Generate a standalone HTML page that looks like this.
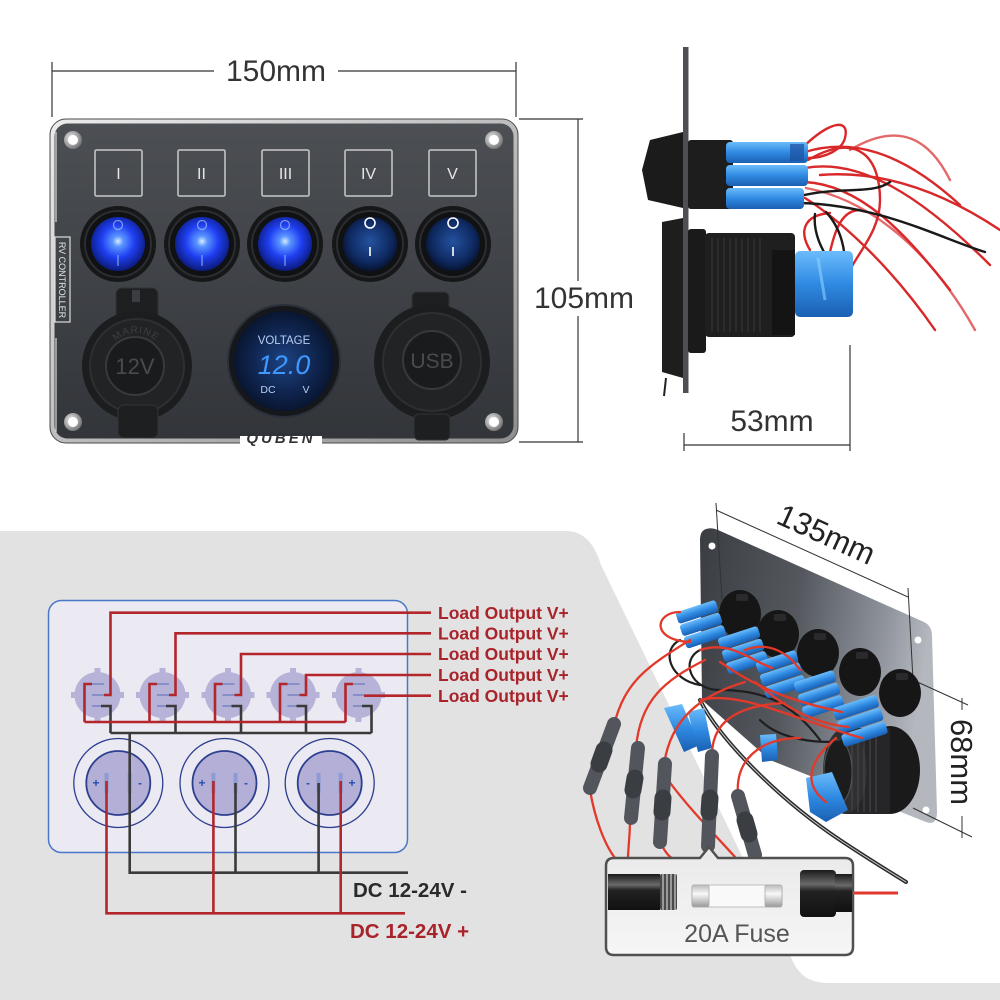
<!DOCTYPE html>
<html><head><meta charset="utf-8"><style>
html,body{margin:0;padding:0;background:#fff;}
svg{display:block;}
text{font-family:"Liberation Sans",sans-serif;}
</style></head><body>
<svg width="1000" height="1000" viewBox="0 0 1000 1000" xmlns="http://www.w3.org/2000/svg">
<defs>
 <linearGradient id="pnl" x1="0" y1="0" x2="0" y2="1">
  <stop offset="0" stop-color="#4c4f54"/><stop offset="1" stop-color="#323539"/>
 </linearGradient>
 <linearGradient id="rim" x1="0" y1="0" x2="1" y2="1">
  <stop offset="0" stop-color="#ececec"/><stop offset="1" stop-color="#8e8e8e"/>
 </linearGradient>
 <radialGradient id="lensB" cx="0.5" cy="0.45" r="0.55">
  <stop offset="0" stop-color="#d8ecff"/><stop offset="0.18" stop-color="#5a95ff"/><stop offset="0.55" stop-color="#1f3ff2"/><stop offset="1" stop-color="#0b1a7a"/>
 </radialGradient>
 <radialGradient id="lensD" cx="0.5" cy="0.45" r="0.55">
  <stop offset="0" stop-color="#24519e"/><stop offset="0.7" stop-color="#0f2a62"/><stop offset="1" stop-color="#071330"/>
 </radialGradient>
 <radialGradient id="volt" cx="0.5" cy="0.5" r="0.5">
  <stop offset="0" stop-color="#1d4282"/><stop offset="0.75" stop-color="#0d2046"/><stop offset="1" stop-color="#091630"/>
 </radialGradient>
 <radialGradient id="screw" cx="0.4" cy="0.4" r="0.6">
  <stop offset="0" stop-color="#f4f4f4"/><stop offset="1" stop-color="#777"/>
 </radialGradient>
 <linearGradient id="plate2" x1="0" y1="0" x2="1" y2="0.2">
  <stop offset="0" stop-color="#3a3d42"/><stop offset="0.45" stop-color="#55595f"/><stop offset="0.8" stop-color="#8d919a"/><stop offset="1" stop-color="#b4b7bd"/>
 </linearGradient>
 <linearGradient id="fusebg" x1="0" y1="0" x2="0" y2="1">
  <stop offset="0" stop-color="#e9e9e9"/><stop offset="1" stop-color="#f6f6f6"/>
 </linearGradient>
 <linearGradient id="blk" x1="0" y1="0" x2="0" y2="1">
  <stop offset="0" stop-color="#1a1a1a"/><stop offset="0.3" stop-color="#6a6a6a"/><stop offset="0.45" stop-color="#222"/><stop offset="1" stop-color="#111"/>
 </linearGradient>
 <linearGradient id="metal" x1="0" y1="0" x2="0" y2="1">
  <stop offset="0" stop-color="#bbb"/><stop offset="0.4" stop-color="#f8f8f8"/><stop offset="1" stop-color="#999"/>
 </linearGradient>
 <linearGradient id="blue" x1="0" y1="0" x2="0" y2="1">
  <stop offset="0" stop-color="#6bbcfb"/><stop offset="0.5" stop-color="#2f8ae2"/><stop offset="1" stop-color="#1a5fb2"/>
 </linearGradient>
 <path id="arc12" d="M107,362 A29,29 0 0 1 165,362"/>
</defs>

<!-- background -->
<rect width="1000" height="1000" fill="#ffffff"/>
<path d="M0,531 L565,531 C585,531 595,545 601,565 L790,955 C798,975 808,983 830,983 L1000,983 L1000,1000 L0,1000 Z" fill="#e2e2e2"/>

<!-- ============ TOP LEFT: panel front ============ -->
<g stroke="#333" stroke-width="1.2" fill="none">
 <line x1="52" y1="62" x2="52" y2="117"/>
 <line x1="516" y1="62" x2="516" y2="117"/>
 <line x1="52" y1="71" x2="214" y2="71"/>
 <line x1="338" y1="71" x2="516" y2="71"/>
 <line x1="519" y1="119" x2="583" y2="119"/>
 <line x1="519" y1="442" x2="583" y2="442"/>
 <line x1="578" y1="119" x2="578" y2="281"/>
 <line x1="578" y1="316" x2="578" y2="442"/>
</g>
<text x="276" y="81" font-size="30" fill="#333" text-anchor="middle">150mm</text>
<text x="584" y="308" font-size="30" fill="#333" text-anchor="middle">105mm</text>

<rect x="50" y="119" width="468" height="324" rx="16" fill="url(#rim)" stroke="#4a4a4a" stroke-width="1"/>
<rect x="54.5" y="123.5" width="459" height="315" rx="13" fill="url(#pnl)"/>
<line x1="56" y1="132" x2="56" y2="222" stroke="#ddd" stroke-width="1.2"/>
<line x1="56" y1="338" x2="56" y2="432" stroke="#ddd" stroke-width="1.2"/>

<!-- screws -->
<g>
 <circle cx="73" cy="140" r="9" fill="url(#screw)"/><circle cx="73" cy="140" r="5" fill="#fff"/>
 <circle cx="494" cy="140" r="9" fill="url(#screw)"/><circle cx="494" cy="140" r="5" fill="#fff"/>
 <circle cx="73" cy="422" r="9" fill="url(#screw)"/><circle cx="73" cy="422" r="5" fill="#fff"/>
 <circle cx="494" cy="422" r="9" fill="url(#screw)"/><circle cx="494" cy="422" r="5" fill="#fff"/>
</g>

<!-- label boxes -->
<g fill="none" stroke="#c9c9c9" stroke-width="1.5">
 <rect x="95" y="150" width="47" height="46" rx="1.5"/>
 <rect x="178" y="150" width="47" height="46" rx="1.5"/>
 <rect x="262" y="150" width="47" height="46" rx="1.5"/>
 <rect x="345" y="150" width="47" height="46" rx="1.5"/>
 <rect x="429" y="150" width="47" height="46" rx="1.5"/>
</g>
<g font-size="16" fill="#e6e6e6" text-anchor="middle">
 <text x="118.5" y="179" font-family="Liberation Serif, serif">I</text>
 <text x="201.5" y="179" font-family="Liberation Serif, serif">II</text>
 <text x="285.5" y="179" font-family="Liberation Serif, serif">III</text>
 <text x="368.5" y="179" font-family="Liberation Serif, serif">IV</text>
 <text x="452.5" y="179" font-family="Liberation Serif, serif">V</text>
</g>

<!-- RV controller label -->
<rect x="55" y="237" width="15" height="85" fill="none" stroke="#ddd" stroke-width="1.2"/>
<text transform="translate(59,280) rotate(90)" font-family="Liberation Serif, serif" font-size="9" fill="#e6e6e6" text-anchor="middle">RV CONTROLLER</text>

<!-- switches -->
<g>
 <circle cx="118" cy="244" r="38" fill="#161718"/><circle cx="118" cy="244" r="33" fill="#101112" stroke="#2c2d30" stroke-width="2"/><circle cx="118" cy="244" r="27" fill="url(#lensB)"/>
 <circle cx="202" cy="244" r="38" fill="#161718"/><circle cx="202" cy="244" r="33" fill="#101112" stroke="#2c2d30" stroke-width="2"/><circle cx="202" cy="244" r="27" fill="url(#lensB)"/>
 <circle cx="285" cy="244" r="38" fill="#161718"/><circle cx="285" cy="244" r="33" fill="#101112" stroke="#2c2d30" stroke-width="2"/><circle cx="285" cy="244" r="27" fill="url(#lensB)"/>
 <circle cx="370" cy="244" r="38" fill="#161718"/><circle cx="370" cy="244" r="33" fill="#101112" stroke="#2c2d30" stroke-width="2"/><circle cx="370" cy="244" r="27" fill="url(#lensD)"/>
 <circle cx="453" cy="244" r="38" fill="#161718"/><circle cx="453" cy="244" r="33" fill="#101112" stroke="#2c2d30" stroke-width="2"/><circle cx="453" cy="244" r="27" fill="url(#lensD)"/>
 <g stroke="#b9d8ff" stroke-width="1.3" fill="none">
  <circle cx="118" cy="225" r="4.5" stroke-opacity="0.6"/><line x1="118" y1="255" x2="118" y2="266" stroke-opacity="0.6"/>
  <circle cx="202" cy="225" r="4.5" stroke-opacity="0.6"/><line x1="202" y1="255" x2="202" y2="266" stroke-opacity="0.6"/>
  <circle cx="285" cy="225" r="4.5" stroke-opacity="0.6"/><line x1="285" y1="255" x2="285" y2="266" stroke-opacity="0.6"/>
 </g>
 <g stroke="#ffffff" stroke-width="1.6" fill="none">
  <circle cx="370" cy="223" r="5"/><line x1="370" y1="247" x2="370" y2="256"/>
  <circle cx="453" cy="223" r="5"/><line x1="453" y1="247" x2="453" y2="256"/>
 </g>
</g>

<!-- 12V socket -->
<g>
 <rect x="116" y="288" width="42" height="32" rx="6" fill="#1e1f21" stroke="#333" stroke-width="1"/>
 <rect x="132" y="290" width="8" height="12" fill="#3a3d42"/>
 <circle cx="137" cy="366" r="55" fill="#1c1d1f"/>
 <circle cx="137" cy="366" r="47" fill="#222325" stroke="#2e2f32" stroke-width="2"/>
 <circle cx="135" cy="366" r="29" fill="#1a1b1d" stroke="#38393c" stroke-width="2"/>
 <text x="135" y="374" font-size="22" fill="#4a4b4e" text-anchor="middle">12V</text>
 <text font-size="10" fill="#3d3e41" letter-spacing="1"><textPath href="#arc12" startOffset="50%" text-anchor="middle">MARINE</textPath></text>
 <rect x="118" y="405" width="40" height="33" rx="6" fill="#1e1f21" stroke="#333" stroke-width="1"/>
</g>

<!-- voltmeter -->
<g>
 <circle cx="284" cy="361" r="56" fill="#15171b" stroke="#2a2f3a" stroke-width="2"/>
 <circle cx="284" cy="361" r="50" fill="url(#volt)"/>
 <text x="284" y="344" font-size="11.5" fill="#b9cdf0" text-anchor="middle">VOLTAGE</text>
 <text x="284" y="374" font-size="27" fill="#3d98ff" text-anchor="middle" font-style="italic" font-family="Liberation Mono, monospace">12.0</text>
 <text x="268" y="393" font-size="10.5" fill="#b9cdf0" text-anchor="middle">DC</text>
 <text x="306" y="393" font-size="10.5" fill="#b9cdf0" text-anchor="middle">V</text>
</g>

<!-- USB socket -->
<g>
 <rect x="412" y="292" width="37" height="26" rx="5" fill="#1e1f21" stroke="#333" stroke-width="1"/>
 <circle cx="432" cy="362" r="58" fill="#1c1d1f"/>
 <circle cx="432" cy="362" r="49" fill="#222325" stroke="#2e2f32" stroke-width="2"/>
 <circle cx="432" cy="360" r="29" fill="#1a1b1d" stroke="#38393c" stroke-width="2"/>
 <text x="432" y="368" font-size="21" fill="#4a4b4e" text-anchor="middle">USB</text>
 <rect x="414" y="414" width="36" height="26" rx="5" fill="#1e1f21" stroke="#333" stroke-width="1"/>
</g>

<!-- brand -->
<rect x="240" y="436" width="82" height="9" fill="#fff"/>
<text x="281" y="443" font-size="15" font-weight="bold" font-style="italic" fill="#2f3236" text-anchor="middle" letter-spacing="3">QUBEN</text>

<!-- ============ TOP RIGHT: side view ============ -->
<g>
 <g fill="none" stroke-linecap="round">
  <g stroke="#d8282a" stroke-width="2.4">
   <path d="M800,150 C830,120 850,118 845,138 C842,150 825,158 808,158"/>
   <path d="M805,152 C850,138 900,150 960,205"/>
   <path d="M805,168 C860,158 920,195 990,265"/>
   <path d="M805,182 C860,185 905,232 950,290"/>
   <path d="M805,198 C840,220 890,265 935,330"/>
   <path d="M808,160 C860,130 880,160 880,200 C880,230 860,250 850,270"/>
   <path d="M820,175 C880,170 940,190 1000,230"/>
   <path d="M806,188 C870,200 930,250 975,330" stroke-opacity="0.7"/>
   <path d="M810,250 C798,230 805,215 830,213"/>
   <path d="M830,252 C835,230 842,210 860,210"/>
   <path d="M850,150 C900,120 930,140 950,180" stroke-opacity="0.7"/>
  </g>
  <g stroke="#1a1a1a" stroke-width="2.4">
   <path d="M800,196 C840,186 872,195 890,182"/>
   <path d="M800,203 C880,205 940,238 985,252"/>
   <path d="M815,214 C812,240 830,260 838,278"/>
   <path d="M826,212 C838,225 850,250 842,280"/>
  </g>
 </g>
 <rect x="683" y="47" width="5.5" height="346" fill="#4e4f52"/>
 <path d="M650,140 L683,132 L683,208 L648,200 L642,170 Z" fill="#1b1b1c"/>
 <rect x="688" y="140" width="45" height="69" rx="3" fill="#1d1d1e"/>
 <rect x="726" y="142" width="82" height="21" rx="4" fill="url(#blue)"/>
 <rect x="726" y="165" width="82" height="21" rx="4" fill="url(#blue)"/>
 <rect x="726" y="188" width="78" height="21" rx="4" fill="url(#blue)"/>
 <rect x="790" y="144" width="14" height="17" fill="#1d4f9e" opacity="0.7"/>
 <path d="M662,222 L683,218 L683,378 L662,372 Z" fill="#1e1e1f"/>
 <line x1="666" y1="378" x2="664" y2="396" stroke="#222" stroke-width="2"/>
 <rect x="688" y="229" width="18" height="124" rx="3" fill="#1a1a1b"/>
 <rect x="705" y="233" width="90" height="104" rx="4" fill="#1f1f20"/>
 <g stroke="#3a3a3c" stroke-width="1">
  <line x1="712" y1="238" x2="712" y2="332"/><line x1="718" y1="238" x2="718" y2="332"/><line x1="724" y1="238" x2="724" y2="332"/>
  <line x1="730" y1="238" x2="730" y2="332"/><line x1="736" y1="238" x2="736" y2="332"/><line x1="742" y1="238" x2="742" y2="332"/>
  <line x1="748" y1="238" x2="748" y2="332"/><line x1="754" y1="238" x2="754" y2="332"/><line x1="760" y1="238" x2="760" y2="332"/>
 </g>
 <rect x="772" y="250" width="23" height="85" fill="#141415"/>
 <rect x="795" y="251" width="58" height="66" rx="5" fill="url(#blue)"/>
 <path d="M818,258 L825,300" stroke="#8fd0ff" stroke-width="3" opacity="0.6"/>
</g>
<g stroke="#333" stroke-width="1.2" fill="none">
 <line x1="684" y1="433" x2="684" y2="451"/>
 <line x1="850" y1="345" x2="850" y2="451"/>
 <line x1="684" y1="445" x2="850" y2="445"/>
</g>
<text x="772" y="431" font-size="30" fill="#333" text-anchor="middle">53mm</text>

<!-- ============ BOTTOM LEFT: wiring diagram ============ -->
<rect x="48.5" y="600.5" width="359" height="252" rx="13" fill="#ebe9f2" stroke="#4a78c8" stroke-width="1.5"/>

<g fill="#b6b2d8">
 <g><circle cx="97.5" cy="695" r="23"/><rect x="94.5" y="668" width="6" height="6"/><rect x="94.5" y="716" width="6" height="6"/><rect x="71" y="692" width="6" height="6"/><rect x="118" y="692" width="6" height="6"/></g>
 <g><circle cx="162.5" cy="695" r="23"/><rect x="159.5" y="668" width="6" height="6"/><rect x="159.5" y="716" width="6" height="6"/><rect x="136" y="692" width="6" height="6"/><rect x="183" y="692" width="6" height="6"/></g>
 <g><circle cx="228" cy="695" r="23"/><rect x="225" y="668" width="6" height="6"/><rect x="225" y="716" width="6" height="6"/><rect x="201.5" y="692" width="6" height="6"/><rect x="248.5" y="692" width="6" height="6"/></g>
 <g><circle cx="293" cy="695" r="23"/><rect x="290" y="668" width="6" height="6"/><rect x="290" y="716" width="6" height="6"/><rect x="266.5" y="692" width="6" height="6"/><rect x="313.5" y="692" width="6" height="6"/></g>
 <g><circle cx="358.5" cy="695" r="23"/><rect x="355.5" y="668" width="6" height="6"/><rect x="355.5" y="716" width="6" height="6"/><rect x="332" y="692" width="6" height="6"/><rect x="379" y="692" width="6" height="6"/></g>
</g>
<g stroke="#7d85c2" stroke-width="1.6">
 <line x1="92" y1="684" x2="104" y2="684"/><line x1="92" y1="695" x2="104" y2="695"/><line x1="92" y1="706" x2="104" y2="706"/>
 <line x1="157" y1="684" x2="169" y2="684"/><line x1="157" y1="695" x2="169" y2="695"/><line x1="157" y1="706" x2="169" y2="706"/>
 <line x1="222.5" y1="684" x2="234.5" y2="684"/><line x1="222.5" y1="695" x2="234.5" y2="695"/><line x1="222.5" y1="706" x2="234.5" y2="706"/>
 <line x1="287.5" y1="684" x2="299.5" y2="684"/><line x1="287.5" y1="695" x2="299.5" y2="695"/><line x1="287.5" y1="706" x2="299.5" y2="706"/>
 <line x1="353" y1="684" x2="365" y2="684"/><line x1="353" y1="695" x2="365" y2="695"/><line x1="353" y1="706" x2="365" y2="706"/>
</g>

<g>
 <circle cx="118.3" cy="783" r="44.5" fill="none" stroke="#2c3f8f" stroke-width="1.3"/>
 <circle cx="118.3" cy="783" r="32" fill="#b3afd6" stroke="#2c3f8f" stroke-width="1.8"/>
 <circle cx="224.5" cy="783" r="44.5" fill="none" stroke="#2c3f8f" stroke-width="1.3"/>
 <circle cx="224.5" cy="783" r="32" fill="#b3afd6" stroke="#2c3f8f" stroke-width="1.8"/>
 <circle cx="329.7" cy="783" r="44.5" fill="none" stroke="#2c3f8f" stroke-width="1.3"/>
 <circle cx="329.7" cy="783" r="32" fill="#b3afd6" stroke="#2c3f8f" stroke-width="1.8"/>
 <g fill="#8e9bd3">
  <rect x="104.5" y="773" width="4" height="20"/><rect x="127.7" y="773" width="4" height="20"/>
  <rect x="211.4" y="773" width="4" height="20"/><rect x="233.5" y="773" width="4" height="20"/>
  <rect x="316.6" y="773" width="4" height="20"/><rect x="338.7" y="773" width="4" height="20"/>
 </g>
 <g font-size="12" font-weight="bold" fill="#2a4fb0" text-anchor="middle">
  <text x="96" y="787">+</text><text x="140" y="787">-</text>
  <text x="202" y="787">+</text><text x="246" y="787">-</text>
  <text x="308" y="787">-</text><text x="352" y="787">+</text>
 </g>
</g>

<g fill="none" stroke-width="2.6" stroke-linejoin="miter">
 <g stroke="#3a3a3a">
  <path d="M101,706 H110.5 V733"/>
  <path d="M166,706 H175.5 V733"/>
  <path d="M231.5,706 H241 V733"/>
  <path d="M296.5,706 H306 V733"/>
  <path d="M362,706 H371.5 V733"/>
  <path d="M110.5,733 H371.5"/>
  <path d="M129.7,733 V872.7 H408"/>
  <path d="M235.5,783 V872.7"/>
  <path d="M318.6,783 V872.7"/>
 </g>
 <g stroke="#b3262c">
  <path d="M92,684 H84.5 V722"/>
  <path d="M157,684 H149.5 V722"/>
  <path d="M222.5,684 H215 V722"/>
  <path d="M287.5,684 H280 V722"/>
  <path d="M353,684 H345.5 V722"/>
  <path d="M84.5,722 H345.5"/>
  <path d="M431,612.7 H110.5 V695 H104"/>
  <path d="M431,633.3 H175.5 V695 H169"/>
  <path d="M431,654 H241 V695 H234.5"/>
  <path d="M431,675 H306 V695 H299.5"/>
  <path d="M431,695.7 H364"/>
  <path d="M106.5,781 V913.3 H405"/>
  <path d="M213.4,781 V913.3"/>
  <path d="M340.7,781 V913.3"/>
 </g>
</g>

<g font-size="17.5" font-weight="bold" fill="#a8232a">
 <text x="438" y="619">Load Output V+</text>
 <text x="438" y="639.5">Load Output V+</text>
 <text x="438" y="660">Load Output V+</text>
 <text x="438" y="681">Load Output V+</text>
 <text x="438" y="702">Load Output V+</text>
</g>
<text x="353" y="897" font-size="20.5" font-weight="bold" fill="#2a2a2a">DC 12-24V -</text>
<text x="350" y="938" font-size="20.5" font-weight="bold" fill="#a8232a">DC 12-24V +</text>

<!-- ============ BOTTOM RIGHT: angled panel ============ -->
<path d="M706,529 Q712,527 718,530 L924,622 Q932,626 932,636 L937,812 Q937,826 926,822 L770,760 L702,700 L700,540 Q700,531 706,529 Z" fill="url(#plate2)"/>
<circle cx="712" cy="546" r="3.5" fill="#fff"/>
<circle cx="918" cy="640" r="3.5" fill="#fff"/>
<circle cx="926" cy="810" r="3.5" fill="#fff"/>

<g stroke="#333" stroke-width="1" fill="none">
 <line x1="716" y1="503" x2="722" y2="600"/>
 <line x1="908" y1="588" x2="913" y2="680"/>
 <line x1="716" y1="510" x2="908" y2="597"/>
 <line x1="913" y1="680" x2="968" y2="705"/>
 <line x1="913" y1="808" x2="972" y2="837"/>
 <line x1="962" y1="698" x2="962" y2="710"/>
 <line x1="962" y1="816" x2="962" y2="838"/>
</g>
<text transform="translate(822,544) rotate(24.4)" font-size="31" fill="#222" text-anchor="middle">135mm</text>
<text transform="translate(951,762) rotate(90)" font-size="31" fill="#222" text-anchor="middle">68mm</text>

<!-- USB body -->
<g>
 <ellipse cx="890" cy="770" rx="30" ry="44" fill="#1a1a1b"/>
 <rect x="845" y="728" width="45" height="86" fill="#262628"/>
 <ellipse cx="845" cy="771" rx="22" ry="43" fill="#303033"/>
 <g stroke="#4a4a4d" stroke-width="1">
  <line x1="852" y1="732" x2="852" y2="810"/><line x1="858" y1="730" x2="858" y2="812"/><line x1="864" y1="730" x2="864" y2="812"/>
  <line x1="870" y1="730" x2="870" y2="812"/><line x1="876" y1="730" x2="876" y2="812"/>
 </g>
 <ellipse cx="838" cy="772" rx="14" ry="32" fill="#1c1c1d" stroke="#555" stroke-width="1"/>
</g>

<!-- switch bodies -->
<g fill="#161617">
 <ellipse cx="740" cy="614" rx="21" ry="24"/>
 <ellipse cx="778" cy="634" rx="21" ry="24"/>
 <ellipse cx="818" cy="653" rx="21" ry="24"/>
 <ellipse cx="860" cy="672" rx="21" ry="24"/>
 <ellipse cx="900" cy="693" rx="21" ry="24"/>
</g>
<g fill="#2a2a2c">
 <rect x="736" y="594" width="12" height="7" rx="2"/>
 <rect x="774" y="614" width="12" height="7" rx="2"/>
 <rect x="814" y="633" width="12" height="7" rx="2"/>
 <rect x="856" y="652" width="12" height="7" rx="2"/>
 <rect x="896" y="673" width="12" height="7" rx="2"/>
</g>

<!-- black wires -->
<g fill="none" stroke-linecap="round">
 <path d="M700,700 C720,740 780,800 840,840 C870,860 890,872 906,882" stroke="#2a2a2a" stroke-width="4"/>
 <path d="M700,700 C720,740 780,800 840,840 C870,860 890,872 906,882" stroke="#cfcfcf" stroke-width="1"/>
 <path d="M700,650 C680,660 690,690 720,690 C760,690 790,700 820,740" stroke="#1f1f1f" stroke-width="2.2"/>
 <path d="M760,720 C780,740 820,745 850,740" stroke="#1f1f1f" stroke-width="2.2"/>
 <path d="M680,640 C660,650 670,680 700,685" stroke="#1f1f1f" stroke-width="2.2"/>
</g>

<!-- blue connector clusters -->
<g fill="url(#blue)">
 <g transform="translate(702,624) rotate(-18)"><rect x="-22" y="-19" width="42" height="12" rx="3"/><rect x="-22" y="-6" width="42" height="12" rx="3"/><rect x="-22" y="7" width="42" height="12" rx="3"/></g>
 <g transform="translate(744,650) rotate(-18)"><rect x="-22" y="-19" width="42" height="12" rx="3"/><rect x="-22" y="-6" width="42" height="12" rx="3"/><rect x="-22" y="7" width="42" height="12" rx="3"/></g>
 <g transform="translate(782,674) rotate(-18)"><rect x="-22" y="-19" width="42" height="12" rx="3"/><rect x="-22" y="-6" width="42" height="12" rx="3"/><rect x="-22" y="7" width="42" height="12" rx="3"/></g>
 <g transform="translate(820,694) rotate(-18)"><rect x="-22" y="-19" width="42" height="12" rx="3"/><rect x="-22" y="-6" width="42" height="12" rx="3"/><rect x="-22" y="7" width="42" height="12" rx="3"/></g>
 <g transform="translate(861,720) rotate(-18)"><rect x="-24" y="-20" width="46" height="13" rx="3"/><rect x="-24" y="-6" width="46" height="13" rx="3"/><rect x="-24" y="8" width="46" height="13" rx="3"/></g>
 <path d="M806,778 L832,772 L848,810 L826,822 L810,812 Z"/>
 <path d="M760,735 L776,734 L778,760 L762,762 Z"/>
 <path d="M664,708 L682,704 L700,745 L684,752 Z"/>
 <path d="M688,712 L704,708 L712,748 L698,752 Z"/>
</g>

<!-- red wires -->
<g fill="none" stroke="#e2392b" stroke-width="2.3" stroke-linecap="round">
 <path d="M614,725 C625,680 650,665 690,640"/>
 <path d="M636,748 C640,700 665,680 705,660"/>
 <path d="M664,765 C670,720 700,695 745,682"/>
 <path d="M712,755 C712,720 740,705 785,703"/>
 <path d="M738,795 C735,760 760,738 800,738"/>
 <path d="M680,612 C655,612 650,640 690,642"/>
 <path d="M700,650 C730,640 750,660 772,668"/>
 <path d="M720,662 C760,690 795,702 842,712"/>
 <path d="M755,682 C780,702 805,722 848,727"/>
 <path d="M836,738 C812,758 800,782 826,802"/>
 <path d="M700,700 C740,690 795,720 862,738"/>
 <path d="M745,650 C770,640 790,655 800,670"/>
 <path d="M590,790 C595,820 605,845 615,858"/>
 <path d="M630,820 C630,835 628,850 628,858"/>
 <path d="M660,842 C664,850 668,856 672,858"/>
 <path d="M709,848 L709,856"/>
 <path d="M758,857 L752,860"/>
 <path d="M668,780 C690,810 720,840 735,857"/>
</g>

<!-- fuse holders -->
<g stroke-linecap="round">
 <line x1="590" y1="788" x2="614" y2="724" stroke="#52565c" stroke-width="14"/>
 <line x1="599" y1="764" x2="604" y2="750" stroke="#3a3d42" stroke-width="17"/>
 <line x1="631" y1="818" x2="638" y2="748" stroke="#52565c" stroke-width="14"/>
 <line x1="633" y1="790" x2="635" y2="778" stroke="#3a3d42" stroke-width="17"/>
 <line x1="660" y1="842" x2="665" y2="764" stroke="#52565c" stroke-width="14"/>
 <line x1="662" y1="812" x2="663" y2="798" stroke="#3a3d42" stroke-width="17"/>
 <line x1="708" y1="846" x2="712" y2="756" stroke="#52565c" stroke-width="14"/>
 <line x1="709" y1="812" x2="710" y2="798" stroke="#3a3d42" stroke-width="17"/>
 <line x1="755" y1="855" x2="738" y2="796" stroke="#52565c" stroke-width="14"/>
 <line x1="749" y1="834" x2="745" y2="820" stroke="#3a3d42" stroke-width="17"/>
</g>

<!-- fuse callout -->
<path d="M614,858 H700 L709,847 L718,858 H845 Q853,858 853,866 V947 Q853,955 845,955 H614 Q606,955 606,947 V866 Q606,858 614,858 Z" fill="url(#fusebg)" stroke="#505050" stroke-width="2.5"/>
<rect x="608" y="874" width="52" height="36" fill="url(#blk)"/>
<rect x="660" y="874" width="17" height="36" rx="2" fill="#4a4a4a"/>
<g stroke="#cfcfcf" stroke-width="1.2">
 <line x1="663" y1="874" x2="663" y2="910"/><line x1="667" y1="874" x2="667" y2="910"/><line x1="671" y1="874" x2="671" y2="910"/><line x1="675" y1="874" x2="675" y2="910"/>
</g>
<rect x="692" y="885" width="90" height="22" rx="3" fill="#f9f9f9" stroke="#bdbdbd" stroke-width="1"/>
<rect x="692" y="885" width="17" height="22" rx="2" fill="url(#metal)" stroke="#aaa" stroke-width="0.8"/>
<rect x="765" y="885" width="17" height="22" rx="2" fill="url(#metal)" stroke="#aaa" stroke-width="0.8"/>
<rect x="800" y="870" width="36" height="47" rx="4" fill="url(#blk)"/>
<rect x="835" y="874" width="17" height="38" fill="url(#blk)"/>
<line x1="853" y1="893" x2="898" y2="893" stroke="#e03a2e" stroke-width="3"/>
<text x="737" y="942" font-size="25" fill="#555" text-anchor="middle">20A Fuse</text>
</svg>
</body></html>
